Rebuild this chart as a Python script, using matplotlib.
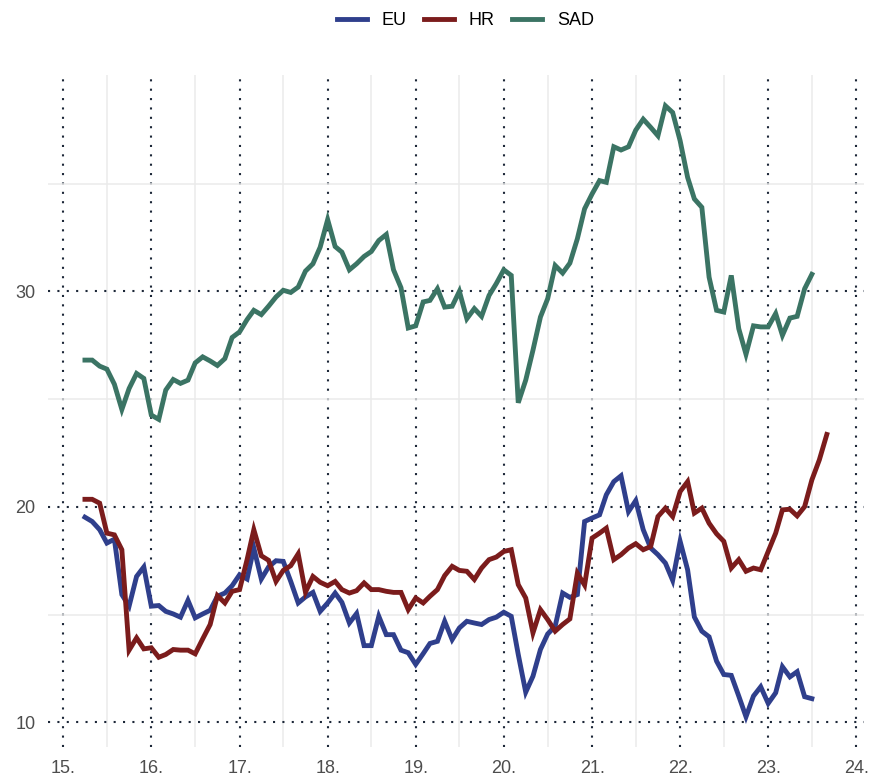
import matplotlib
matplotlib.use("Agg")
import matplotlib.pyplot as plt
import matplotlib.dates as mdates
import pandas as pd

plt.rcParams['font.family'] = ['Liberation Sans', 'DejaVu Sans']

#%% data (monthly, from April 2015)
eu = [19.52, 19.32, 18.94, 18.32, 18.50, 15.93, 15.39, 16.77, 17.21, 15.39,
      15.42, 15.15, 15.03, 14.88, 15.66, 14.85, 15.03, 15.20, 15.85, 16.00,
      16.34, 16.85, 16.65, 18.09, 16.65, 17.21, 17.50, 17.47, 16.54, 15.54,
      15.82, 16.03, 15.15, 15.54, 16.00, 15.57, 14.61, 15.05, 13.56, 13.56,
      14.92, 14.07, 14.07, 13.35, 13.23, 12.69, 13.19, 13.66, 13.76, 14.69,
      13.84, 14.38, 14.69, 14.61, 14.54, 14.77, 14.88, 15.11, 14.92, 13.15,
      11.40, 12.14, 13.38, 14.10, 14.46, 16.00, 15.80, 15.93, 19.32, 19.48,
      19.63, 20.56, 21.17, 21.44, 19.78, 20.29, 18.94, 18.09, 17.78, 17.39,
      16.59, 18.40, 17.08, 14.89, 14.23, 13.97, 12.84, 12.22, 12.18, 11.22,
      10.26, 11.22, 11.65, 10.88, 11.37, 12.58, 12.11, 12.35, 11.19, 11.10]

hr = [20.35, 20.35, 20.17, 18.78, 18.70, 18.01, 13.35, 13.92, 13.41, 13.46,
      13.02, 13.15, 13.38, 13.35, 13.35, 13.18, 13.87, 14.54, 15.88, 15.54,
      16.08, 16.16, 17.55, 18.94, 17.73, 17.52, 16.54, 17.05, 17.27, 17.82,
      16.04, 16.77, 16.50, 16.34, 16.54, 16.16, 16.00, 16.11, 16.47, 16.16,
      16.16, 16.08, 16.03, 16.03, 15.23, 15.77, 15.54, 15.85, 16.16, 16.81,
      17.24, 17.05, 17.01, 16.63, 17.16, 17.55, 17.67, 17.93, 18.01, 16.39,
      15.77, 14.15, 15.23, 14.77, 14.23, 14.54, 14.80, 16.92, 16.37, 18.55,
      18.78, 19.01, 17.55, 17.78, 18.09, 18.29, 18.01, 18.16, 19.55, 19.94,
      19.55, 20.71, 21.17, 19.71, 19.94, 19.24, 18.75, 18.40, 17.16, 17.55,
      17.01, 17.16, 17.08, 17.93, 18.78, 19.86, 19.89, 19.58, 20.01, 21.25,
      22.18, 23.36]

sad = [26.81, 26.81, 26.53, 26.39, 25.69, 24.52, 25.49, 26.19, 25.96, 24.26,
       24.06, 25.42, 25.91, 25.73, 25.88, 26.68, 26.96, 26.77, 26.56, 26.88,
       27.86, 28.12, 28.69, 29.12, 28.92, 29.31, 29.74, 30.05, 29.95, 30.20,
       30.94, 31.28, 32.05, 33.33, 32.08, 31.82, 31.00, 31.28, 31.62, 31.85,
       32.36, 32.64, 31.00, 30.17, 28.30, 28.40, 29.51, 29.58, 30.12, 29.27,
       29.31, 30.00, 28.73, 29.20, 28.84, 29.81, 30.36, 31.00, 30.74, 24.83,
       25.88, 27.27, 28.81, 29.66, 31.20, 30.85, 31.31, 32.44, 33.83, 34.52,
       35.14, 35.06, 36.71, 36.56, 36.71, 37.48, 37.99, 37.61, 37.22, 38.61,
       38.30, 36.99, 35.29, 34.29, 33.90, 30.66, 29.12, 29.04, 30.74, 28.27,
       27.08, 28.40, 28.35, 28.35, 28.97, 27.96, 28.76, 28.84, 30.12, 30.79]

series = ['EU', 'HR', 'SAD']
colors = ['#2f3f8c', '#7b1c1c', '#3b7464']

months = pd.date_range('2015-04-01', periods=len(hr), freq='MS')

#%% plot
fig = plt.figure(figsize=(8.7, 7.76), dpi=100)
ax = fig.add_axes([0.055, 0.037, 0.938, 0.866])

for name, vals, col in zip(series, [eu, hr, sad], colors):
    ax.plot(months[:len(vals)], vals, color=col, lw=3.5, label=name,
            solid_joinstyle='miter', zorder=3)

ax.margins(x=0.05, y=0.05)

ax.xaxis.set_major_locator(mdates.YearLocator())
ax.xaxis.set_major_formatter(mdates.DateFormatter('%y.'))
ax.xaxis.set_minor_locator(mdates.MonthLocator(bymonth=7))
ax.set_yticks([10, 20, 30])
ax.set_yticks([15, 25, 35], minor=True)

ax.grid(which='minor', color='#ebebeb', lw=1.1, ls='-', zorder=0)
ax.grid(which='major', color='#1c2738', lw=1.5, ls=(0, (1, 3.5)), zorder=1)

for s in ax.spines.values():
    s.set_visible(False)
ax.tick_params(which='both', length=0)
ax.tick_params(axis='both', labelsize=13, labelcolor='#4d4d4d')
ax.tick_params(axis='x', pad=9)
ax.tick_params(axis='y', pad=9)

ax.legend(loc='center', bbox_to_anchor=(0.535, 0.973), bbox_transform=fig.transFigure,
          ncol=3, frameon=False, fontsize=13, handlelength=1.66, handletextpad=0.83,
          columnspacing=0.95)

fig.savefig('out.png', dpi=100)
